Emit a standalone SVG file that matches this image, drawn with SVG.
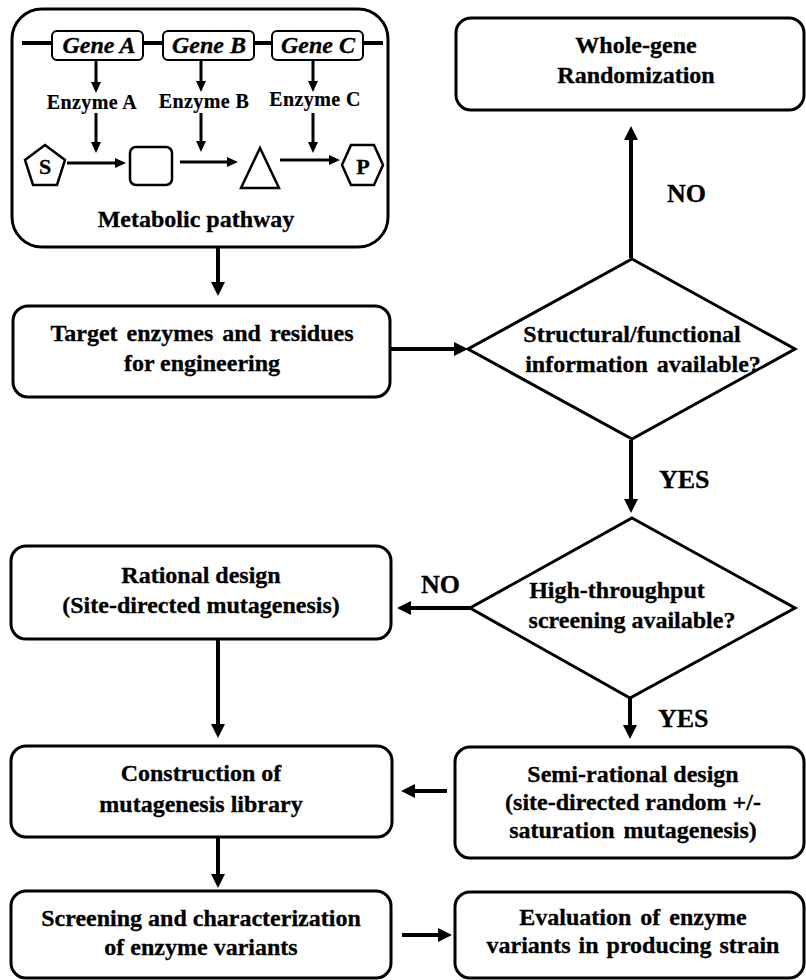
<svg xmlns="http://www.w3.org/2000/svg" width="806" height="980" viewBox="0 0 806 980" font-family="Liberation Serif" font-weight="bold">
<style>
.box{fill:#fff;stroke:#000;stroke-width:3}
.gene{fill:#fff;stroke:#000;stroke-width:2}
.shape{fill:#fff;stroke:#000;stroke-width:2.5}
.t{font-size:24px;text-anchor:middle;fill:#000;stroke:#000;stroke-width:0.3}
.ti{font-style:italic;font-size:24px;text-anchor:middle;fill:#000;stroke:#000;stroke-width:0.3}
.te{font-size:20px;letter-spacing:0.4px;text-anchor:middle;fill:#000;stroke:#000;stroke-width:0.2}
.lab{font-size:26px;fill:#000;stroke:#000;stroke-width:0.3}
.c{stroke:#000;stroke-width:4;fill:none;marker-end:url(#ah)}
.cs{stroke:#000;stroke-width:3;fill:none;marker-end:url(#ahs)}
</style>
<defs>
<marker id="ah" viewBox="0 0 14 14" refX="2" refY="7" markerWidth="14" markerHeight="14" markerUnits="userSpaceOnUse" orient="auto">
<path d="M0,0 L14,7 L0,14 z" fill="#000"/>
</marker>
<marker id="ahs" viewBox="0 0 11 10" refX="2" refY="5" markerWidth="11" markerHeight="10" markerUnits="userSpaceOnUse" orient="auto">
<path d="M0,0 L11,5 L0,10 z" fill="#000"/>
</marker>
</defs>
<rect width="806" height="980" fill="#fff"/>

<g id="metabolic-pathway">
<rect class="box" x="12" y="9" width="376" height="238" rx="30"/>
<line x1="22" y1="43" x2="383" y2="43" stroke="#000" stroke-width="4"/>
<rect class="gene" x="52" y="31" width="91" height="29" rx="5"/>
<rect class="gene" x="163" y="31" width="91" height="29" rx="5"/>
<rect class="gene" x="272" y="31" width="91" height="29" rx="5"/>
<text class="ti" x="99" y="53">Gene A</text>
<text class="ti" x="209" y="53">Gene B</text>
<text class="ti" x="318" y="53">Gene C</text>
<text class="te" x="92" y="109">Enzyme A</text>
<text class="te" x="204" y="108">Enzyme B</text>
<text class="te" x="315" y="106">Enzyme C</text>
<polygon class="shape" points="45,145 65,160 57,185 33,185 25,160"/>
<text class="t" x="45" y="174" style="font-size:22px">S</text>
<rect class="shape" x="130" y="147" width="42" height="38" rx="6"/>
<polygon class="shape" points="260,148 279,188 241,188"/>
<polygon class="shape" points="342,165 351,145 374,145 383,165 374,185 351,185"/>
<text class="t" x="363" y="174" style="font-size:22px">P</text>
<g id="pathway-arrows">
<line class="cs" x1="96" y1="60" x2="96" y2="84"/>
<line class="cs" x1="96" y1="113" x2="96" y2="144"/>
<line class="cs" x1="201" y1="60" x2="201" y2="83"/>
<line class="cs" x1="201" y1="113" x2="201" y2="143"/>
<line class="cs" x1="313" y1="60" x2="313" y2="83"/>
<line class="cs" x1="313" y1="113" x2="313" y2="144"/>
<line class="cs" x1="67" y1="163" x2="117" y2="163"/>
<line class="cs" x1="180" y1="162" x2="229" y2="162"/>
<line class="cs" x1="280" y1="160" x2="331" y2="160"/>
</g>
<text class="t" x="196" y="227">Metabolic pathway</text>
</g>

<g id="whole-gene">
<rect class="box" x="456" y="18" width="348" height="92" rx="15"/>
<text class="t" x="636" y="53">Whole-gene</text>
<text class="t" x="636" y="83">Randomization</text>
</g>

<g id="target">
<rect class="box" x="13" y="306" width="377" height="91" rx="15"/>
<text class="t" x="202" y="341" word-spacing="3">Target enzymes and residues</text>
<text class="t" x="202" y="371">for engineering</text>
</g>

<g id="decision-structural">
<polygon class="box" points="632,259 795,349 632,439 468,349"/>
<text class="t" x="632" y="342">Structural/functional</text>
<text class="t" x="643" y="372" word-spacing="3">information available?</text>
</g>

<g id="decision-htp">
<polygon class="box" points="632,518 795,608 630,698 470,608"/>
<text class="t" x="617" y="598">High-throughput</text>
<text class="t" x="632" y="628">screening available?</text>
</g>

<g id="rational">
<rect class="box" x="11" y="546" width="380" height="93" rx="15"/>
<text class="t" x="201" y="583">Rational design</text>
<text class="t" x="201" y="613">(Site-directed mutagenesis)</text>
</g>

<g id="semi-rational">
<rect class="box" x="455" y="747" width="349" height="111" rx="15"/>
<text class="t" x="633" y="782">Semi-rational design</text>
<text class="t" x="633" y="810">(site-directed random +/-</text>
<text class="t" x="633" y="838" word-spacing="3">saturation mutagenesis)</text>
</g>

<g id="construction">
<rect class="box" x="11" y="746" width="381" height="91" rx="15"/>
<text class="t" x="201" y="781">Construction of</text>
<text class="t" x="201" y="812">mutagenesis library</text>
</g>

<g id="screening">
<rect class="box" x="11" y="891" width="380" height="87" rx="15"/>
<text class="t" x="201" y="926">Screening and characterization</text>
<text class="t" x="201" y="955">of enzyme variants</text>
</g>

<g id="evaluation">
<rect class="box" x="455" y="892" width="349" height="86" rx="15"/>
<text class="t" x="633" y="925" word-spacing="3">Evaluation of  enzyme</text>
<text class="t" x="633" y="953" word-spacing="2">variants in producing strain</text>
</g>

<g id="connectors">
<line class="c" x1="218" y1="247" x2="218" y2="284"/>
<line class="c" x1="391" y1="349" x2="456" y2="349"/>
<line class="c" x1="631" y1="258" x2="631" y2="138"/>
<line class="c" x1="631" y1="440" x2="631" y2="501"/>
<line class="c" x1="470" y1="608" x2="409" y2="608"/>
<line class="c" x1="630" y1="698" x2="630" y2="727"/>
<line class="c" x1="218" y1="639" x2="218" y2="726"/>
<line class="c" x1="447" y1="791" x2="413" y2="791"/>
<line class="c" x1="218" y1="838" x2="218" y2="876"/>
<line class="c" x1="402" y1="935" x2="440" y2="935"/>
<text class="lab" x="667" y="202">NO</text>
<text class="lab" x="659" y="488">YES</text>
<text class="lab" x="421" y="593">NO</text>
<text class="lab" x="658" y="727">YES</text>
</g>
</svg>
